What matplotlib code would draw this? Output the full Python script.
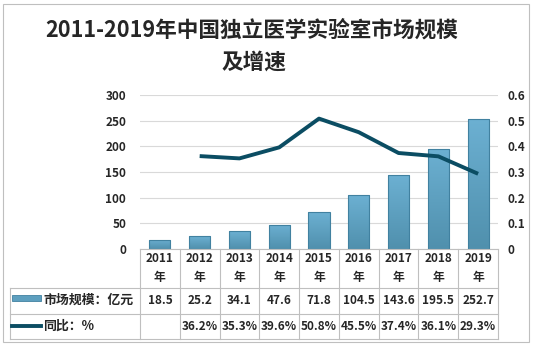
import numpy as np
import matplotlib.pyplot as plt
import matplotlib.transforms as mtransforms
from matplotlib.patches import Rectangle
from matplotlib.lines import Line2D
from matplotlib.colors import LinearSegmentedColormap

plt.rcParams['font.family'] = ['Noto Sans CJK SC', 'DejaVu Sans']

years = ['2011', '2012', '2013', '2014', '2015', '2016', '2017', '2018', '2019']
market = [18.5, 25.2, 34.1, 47.6, 71.8, 104.5, 143.6, 195.5, 252.7]
growth = [None, 36.2, 35.3, 39.6, 50.8, 45.5, 37.4, 36.1, 29.3]
left_ticks = [0, 50, 100, 150, 200, 250, 300]
right_ticks = [0, 0.1, 0.2, 0.3, 0.4, 0.5, 0.6]

W, H = 534, 345
bar_top = '#6cb0d2'
bar_bot = '#5090ad'
bar_edge = '#4181a0'
line_c = '#0b4d63'
grid_c = '#d9d9d9'
txt_c = '#262626'
cmap = LinearSegmentedColormap.from_list('bar', [bar_bot, bar_top])

fig = plt.figure(figsize=(W / 100, H / 100), dpi=100)


def fx(px):
    return px / W


def fy(py):
    return 1 - py / H


ax_l, ax_r, ax_t, ax_b = 140, 498, 95, 249
ax = fig.add_axes([fx(ax_l), fy(ax_b), fx(ax_r - ax_l), (ax_b - ax_t) / H])
x = np.arange(len(years))
bars = ax.bar(x, market, width=0.53, color='none', edgecolor=bar_edge, linewidth=0.8, zorder=3)
grad = np.linspace(0, 1, 100).reshape(-1, 1)
for b in bars:
    x0, w, h = b.get_x(), b.get_width(), b.get_height()
    im = ax.imshow(grad, extent=[x0, x0 + w, 0, h], origin='lower', aspect='auto',
                   cmap=cmap, zorder=2)
    im.set_clip_path(b)
ax.set_xlim(-0.5, len(years) - 0.5)
ax.set_ylim(0, 300)
ax.set_yticks(left_ticks)
ax.set_yticklabels([str(t) for t in left_ticks], fontsize=8.5, fontweight='bold', color=txt_c)
ax.grid(axis='y', color=grid_c, linewidth=0.8, zorder=0)
ax.set_axisbelow(True)
ax.set_xticks([])
ax.tick_params(axis='y', length=0, pad=10)
for s in ax.spines.values():
    s.set_visible(False)

ax2 = ax.twinx()
g = np.array([np.nan if v is None else v / 100 for v in growth])
ax2.plot(x, g, color=line_c, linewidth=2.8, solid_capstyle='butt', zorder=3)
ax2.set_ylim(0, 0.6)
ax2.set_yticks(right_ticks)
ax2.set_yticklabels([('0' if t == 0 else f'{t:.1f}') for t in right_ticks],
                    fontsize=8.5, fontweight='bold', color=txt_c)
ax2.tick_params(axis='y', length=0, pad=7)
for s in ax2.spines.values():
    s.set_visible(False)

# title
fig.text(fx(252), fy(30), '2011-2019年中国独立医学实验室市场规模', ha='center', va='center',
         fontsize=15.6, fontweight='bold', color=txt_c)
fig.text(fx(254), fy(62), '及增速', ha='center', va='center',
         fontsize=15.6, fontweight='bold', color=txt_c)

# data table
tb = mtransforms.blended_transform_factory(ax.transData, fig.transFigure)
rows_y = [249, 288, 314, 339]
leg_l = 10
border_c = '#bfbfbf'
for ry in rows_y[1:]:
    fig.add_artist(Line2D([fx(leg_l), fx(ax_r)], [fy(ry), fy(ry)], color=border_c, linewidth=0.8))
fig.add_artist(Line2D([fx(ax_l), fx(ax_r)], [fy(rows_y[0]), fy(rows_y[0])], color=border_c, linewidth=0.8))
for i in range(len(years) + 1):
    xb = -0.5 + i
    fig.add_artist(Line2D([xb, xb], [fy(rows_y[0]), fy(rows_y[-1])], color=border_c,
                          linewidth=0.8, transform=tb))
fig.add_artist(Line2D([fx(leg_l), fx(leg_l)], [fy(rows_y[1]), fy(rows_y[-1])], color=border_c, linewidth=0.8))

for i, yr in enumerate(years):
    fig.text(i, fy(259), yr, transform=tb, ha='center', va='center',
             fontsize=8.5, fontweight='bold', color=txt_c)
    fig.text(i, fy(277), '年', transform=tb, ha='center', va='center',
             fontsize=8.5, fontweight='bold', color=txt_c)
    fig.text(i, fy(301), f'{market[i]:.1f}', transform=tb, ha='center', va='center',
             fontsize=8.5, fontweight='bold', color=txt_c)
    if growth[i] is not None:
        fig.text(i, fy(326.5), f'{growth[i]:.1f}%', transform=tb, ha='center', va='center',
                 fontsize=8.5, fontweight='bold', color=txt_c)

# legend keys in table
fig.add_artist(Rectangle((fx(12), fy(301)), fx(29), (301 - 295) / H, transform=fig.transFigure,
                         facecolor='#5d9fbf', edgecolor=bar_edge, linewidth=0.6))
fig.text(fx(43), fy(300), '市场规模：亿元', ha='left', va='center',
         fontsize=9.3, fontweight='bold', color=txt_c)
fig.add_artist(Line2D([fx(12), fx(41)], [fy(326), fy(326)], color=line_c, linewidth=2.8))
fig.text(fx(43), fy(326), '同比：%', ha='left', va='center',
         fontsize=9.3, fontweight='bold', color=txt_c)

# outer border
fig.add_artist(Rectangle((fx(3), fy(342)), fx(526), (342 - 4) / H, transform=fig.transFigure,
                         facecolor='none', edgecolor='#bfbfbf', linewidth=0.8))

fig.savefig('out.png', dpi=100)
